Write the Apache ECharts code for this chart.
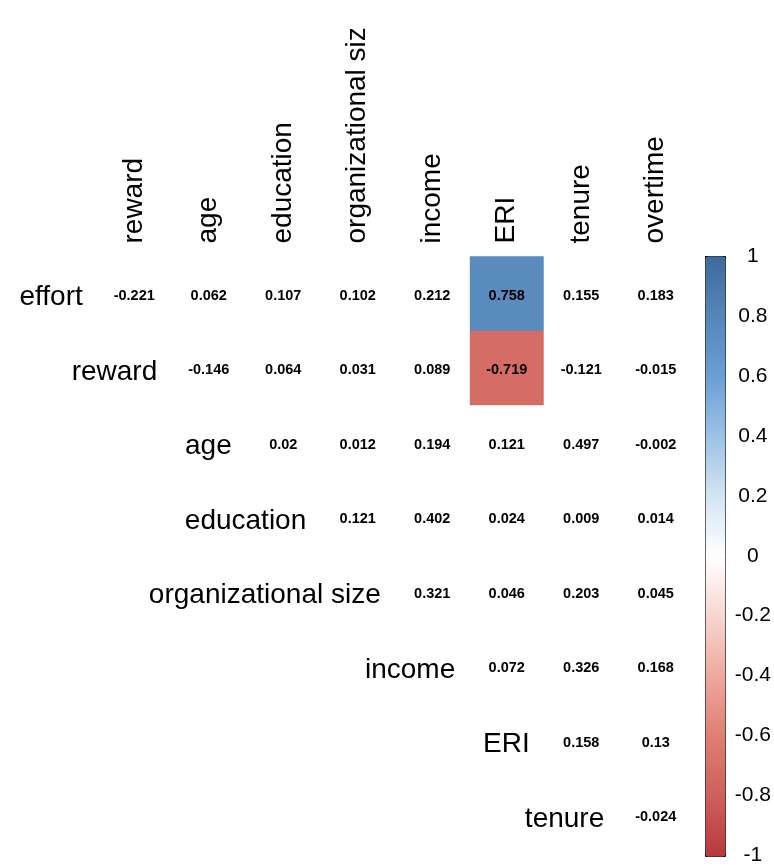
<!DOCTYPE html>
<html><head><meta charset="utf-8">
<script src="https://cdn.jsdelivr.net/npm/echarts@6/dist/echarts.min.js"></script>
<style>html,body{margin:0;padding:0;background:#fff}#c{width:774px;height:866px}</style>
</head><body><div id="c"></div>
<script>
const rowNames = ['effort','reward','age','education','organizational size','income','ERI','tenure'];
const colNames = ['reward','age','education','organizational size','income','ERI','tenure','overtime'];
// upper-triangle correlations, row i starts at column i
const rEffort = [-0.221, 0.062, 0.107, 0.102, 0.212, 0.758, 0.155, 0.183];
const rReward = [-0.146, 0.064, 0.031, 0.089, -0.719, -0.121, -0.015];
const rAge = [0.02, 0.012, 0.194, 0.121, 0.497, -0.002];
const rEducation = [0.121, 0.402, 0.024, 0.009, 0.014];
const rOrgSize = [0.321, 0.046, 0.203, 0.045];
const rIncome = [0.072, 0.326, 0.168];
const rERI = [0.158, 0.13];
const rTenure = [-0.024];
const rows = [rEffort, rReward, rAge, rEducation, rOrgSize, rIncome, rERI, rTenure];
const highlightThreshold = 0.7;
const legendMin = -1, legendMax = 1, legendStep = 0.2;

const xCats = [''].concat(colNames);
const strong = [], weak = [];
rows.forEach((vals, i) => {
  vals.forEach((v, k) => {
    const pt = [i + k + 1, i, v];
    (Math.abs(v) >= highlightThreshold ? strong : weak).push(pt);
  });
});
const labelData = rowNames.map((n, i) => [i, i]);

const FONT = 'Liberation Sans, Arial, sans-serif';
const cellLabel = {
  show: true, color: '#000', fontSize: 14.5, fontWeight: 'bold', fontFamily: FONT,
  textBorderWidth: 0, offset: [0, 2],
  formatter: p => String(p.value[2])
};

const chart = echarts.init(document.getElementById('c'), null, {renderer: 'canvas'});
chart.setOption({
  animation: false,
  backgroundColor: '#fff',
  grid: [
    {left: 22.5, top: 256.5, width: 670.5, height: 596},
    {left: 705, top: 256, width: 20, height: 600}
  ],
  xAxis: [
    {type: 'category', gridIndex: 0, data: xCats, position: 'top',
     axisLine: {show: false}, axisTick: {show: false}, splitLine: {show: false},
     axisLabel: {rotate: -90, fontSize: 28, color: '#000', fontFamily: FONT, margin: 13,
                 interval: 0, width: 229, overflow: 'truncate', ellipsis: '',
                 padding: [0, 0, 10, 0]}},
    {type: 'value', gridIndex: 1, show: false, min: 0, max: 1}
  ],
  yAxis: [
    {type: 'category', gridIndex: 0, data: rowNames, inverse: true, show: false},
    {type: 'value', gridIndex: 1, min: legendMin, max: legendMax, interval: legendStep,
     position: 'right',
     axisLine: {show: false},
     axisTick: {show: true, length: 5, lineStyle: {color: '#000', width: 1}},
     splitLine: {show: false},
     axisLabel: {fontSize: 21, color: '#000', fontFamily: FONT, align: 'center', margin: 28,
                 formatter: v => String(Math.round(v * 10) / 10)}}
  ],
  visualMap: {
    type: 'continuous', seriesIndex: 0, min: legendMin, max: legendMax,
    left: 705, top: 256, itemWidth: 20, itemHeight: 600, padding: 0,
    calculable: false, borderColor: '#000', borderWidth: 1,
    inRange: {color: ['#B8383E','#CF5F5C','#DF7E74','#EEA89D','#F7D6D0','#FFFFFF',
                      '#D3E4F3','#9CC2E6','#6B9ED3','#5586BA','#3E6A9C']}
  },
  series: [
    {type: 'heatmap', xAxisIndex: 0, yAxisIndex: 0, data: strong, label: cellLabel,
     emphasis: {disabled: true}},
    {type: 'heatmap', xAxisIndex: 0, yAxisIndex: 0, data: weak, label: cellLabel,
     itemStyle: {color: '#ffffff'}, emphasis: {disabled: true}},
    {type: 'scatter', xAxisIndex: 0, yAxisIndex: 0, data: labelData, symbolSize: 0,
     silent: true, itemStyle: {color: '#000', opacity: 1},
     label: {show: true, position: 'inside', align: 'right', offset: [23, 4],
             fontSize: 28, color: '#000', textBorderWidth: 0, fontFamily: FONT,
             formatter: p => rowNames[p.dataIndex]}}
  ]
});
</script></body></html>
